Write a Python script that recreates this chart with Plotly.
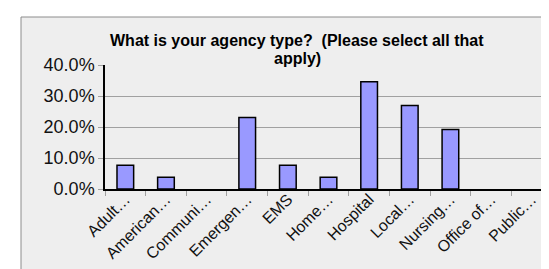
import plotly.graph_objects as go

categories = ["Adult…", "American…", "Communi…", "Emergen…", "EMS", "Home…",
              "Hospital", "Local…", "Nursing…", "Office of…", "Public…"]
values = [0.077, 0.038, 0.0, 0.231, 0.077, 0.038, 0.346, 0.269, 0.192, 0.0, 0.0]
y_ticks = [0.0, 0.1, 0.2, 0.3, 0.4]
title_lines = ["What is your agency type?  (Please select all that", "apply)"]

W, H = 549, 269
L, R, T, B = 97, 5, 57, 88
pw, ph = W - L - R, H - T - B

def px_x(x):
    return (x - L) / pw

def px_y(y):
    return (H - B - y) / ph

fig = go.Figure(go.Bar(
    x=categories, y=values,
    marker=dict(color="#9999ff",
                line=dict(color="#000000",
                          width=[1.5 if v > 0 else 0 for v in values])),
    width=0.41,
))

font = "Liberation Sans, Arial, sans-serif"

fig.update_layout(
    width=W, height=H,
    margin=dict(l=L, r=R, t=T, b=B, pad=0, autoexpand=False),
    paper_bgcolor="#ffffff",
    plot_bgcolor="#eeeeee",
    showlegend=False,
    font=dict(family=font, color="#111111"),
    shapes=[dict(type="rect", xref="paper", yref="paper",
                 x0=px_x(13), x1=px_x(580), y0=px_y(300), y1=px_y(9),
                 fillcolor="#eeeeee", line=dict(color="#8c8c8c", width=1),
                 layer="below")],
    annotations=[
        dict(text="<b>" + title_lines[0] + "</b>", xref="paper", yref="paper",
             x=px_x(289), y=px_y(33), xanchor="center", yanchor="middle",
             showarrow=False, font=dict(size=16, color="#000000", family=font)),
        dict(text="<b>" + title_lines[1] + "</b>", xref="paper", yref="paper",
             x=px_x(289), y=px_y(50), xanchor="center", yanchor="middle",
             showarrow=False, font=dict(size=16, color="#000000", family=font)),
    ],
)

fig.update_yaxes(
    range=[0, 0.4], tickvals=y_ticks, tickformat=".1%",
    showgrid=True, gridcolor="#a0a0a0", gridwidth=1,
    showline=True, linecolor="#000000", linewidth=1.5,
    ticks="outside", ticklen=5, tickcolor="#a0a0a0",
    tickfont=dict(size=18, color="#111111"),
    zeroline=False, fixedrange=True, automargin=False,
)
fig.update_xaxes(
    showline=True, linecolor="#000000", linewidth=1.5,
    ticks="outside", ticklen=5, tickcolor="#a0a0a0", tickson="boundaries",
    tickangle=-45, tickfont=dict(size=16, color="#111111"),
    ticklabelstandoff=-7,
    showgrid=False, automargin=False,
)

fig.write_html("out.html")
